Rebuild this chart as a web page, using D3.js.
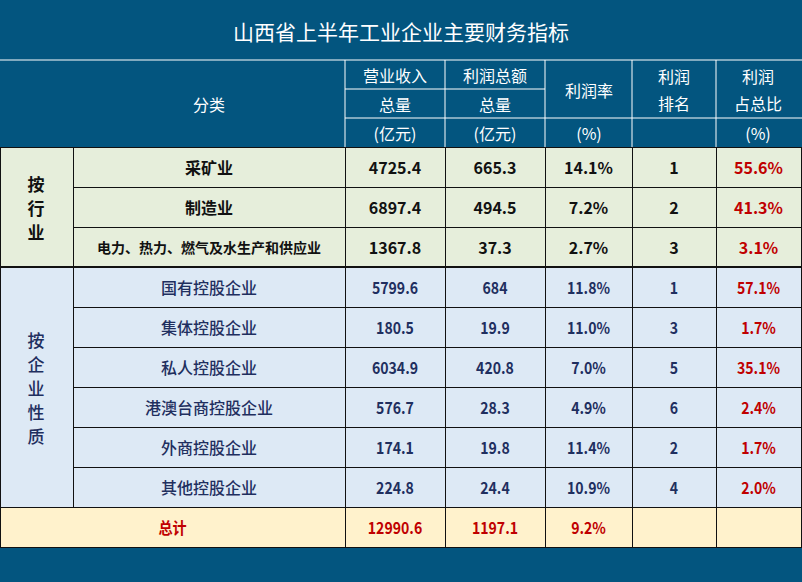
<!DOCTYPE html>
<html><head><meta charset="utf-8">
<script src="https://cdn.jsdelivr.net/npm/d3@7"></script>
<style>body{margin:0;background:#fff}svg{display:block}</style>
</head><body><svg width="802" height="582"></svg>
<script>
const title = "山西省上半年工业企业主要财务指标";
const groups = ["按\n行\n业", "按\n企\n业\n性\n质"];
const categories = ["采矿业","制造业","电力、热力、燃气及水生产和供应业","国有控股企业","集体控股企业","私人控股企业","港澳台商控股企业","外商控股企业","其他控股企业"];
const revenue = ["4725.4","6897.4","1367.8","5799.6","180.5","6034.9","576.7","174.1","224.8"];
const profit = ["665.3","494.5","37.3","684","19.9","420.8","28.3","19.8","24.4"];
const margin = ["14.1%","7.2%","2.7%","11.8%","11.0%","7.0%","4.9%","11.4%","10.9%"];
const rank = ["1","2","3","1","3","5","6","2","4"];
const share = ["55.6%","41.3%","3.1%","57.1%","1.7%","35.1%","2.4%","1.7%","2.0%"];
const total = ["总计","12990.6","1197.1","9.2%","",""];

const svg = d3.select("svg");
const W = 802, H = 582;
const navy = "#03557f";
// column edges
const colEdges = [0, 73, 345, 445, 545, 632, 716, 801];
const x = i => colEdges[i];
const rowY = d3.scaleBand().domain(d3.range(10)).range([147, 547]);
const rh = rowY.bandwidth();

svg.append("rect").attr("width", W).attr("height", H).attr("fill", navy);
svg.append("text").attr("x", W/2).attr("y", 31).attr("text-anchor","middle").attr("dominant-baseline","central")
  .attr("fill","#fff").style("font-family","Noto Sans CJK SC").style("font-size","21px").text(title);

// header
const hf = "Noto Sans CJK SC";
const hdr = svg.append("g").attr("fill","none").attr("stroke","#fff").attr("stroke-width",1);
hdr.append("line").attr("x1",0).attr("x2",W).attr("y1",60).attr("y2",60);
hdr.append("line").attr("x1",345).attr("x2",545).attr("y1",89).attr("y2",89);
hdr.append("line").attr("x1",345).attr("x2",W).attr("y1",118).attr("y2",118);
colEdges.slice(2,7).forEach(e => hdr.append("line").attr("x1",e).attr("x2",e).attr("y1",60).attr("y2",147));
const htext = [
  [209,104,"分类"],[395,75,"营业收入"],[495,75,"利润总额"],[395,104,"总量"],[495,104,"总量"],
  [395,133,"(亿元)"],[495,133,"(亿元)"],[589,90,"利润率"],[589,133,"(%)"],
  [674,76,"利润"],[674,103,"排名"],[758,76,"利润"],[758,103,"占总比"],[758,133,"(%)"]
];
svg.append("g").selectAll("text").data(htext).join("text")
  .attr("x", d => d[0]).attr("y", d => d[1]).attr("text-anchor","middle").attr("dominant-baseline","central")
  .attr("fill","#fff").style("font-family",hf).style("font-size","16px").text(d => d[2]);

// body rows
const rows = categories.map((c,i) => ({c, v:[revenue[i],profit[i],margin[i],rank[i],share[i]], g: i<3?0:1}));
const fills = ["#e6eedb","#dde9f5"];
const body = svg.append("g");
rows.forEach((r,i) => {
  const y = rowY(i);
  body.append("rect").attr("x",73).attr("y",y).attr("width",W-73).attr("height",rh).attr("fill",fills[r.g]);
  const cells = [r.c].concat(r.v);
  cells.forEach((t,j) => {
    const cx = (x(j+1)+x(j+2))/2;
    body.append("text").attr("x",cx).attr("y",y+rh/2).attr("text-anchor","middle").attr("dominant-baseline","central")
      .attr("fill", j===5 ? "#c00000" : (r.g ? "#1f2f5f" : "#111"))
      .style("font-family", r.g ? "Noto Sans CJK SC" : "Noto Sans CJK SC")
      .style("font-weight", j===0 && r.g ? "500" : "bold")
      .style("font-size", j===0 ? (i===2 ? "14px" : "16px") : "16px")
      .attr("transform", r.g && j>0 ? `translate(${cx},0) scale(0.88,1) translate(${-cx},0)` : null)
      .text(t);
  });
});
// group label cells
[[0,3],[3,9]].forEach(([a,b],g) => {
  const y0 = rowY(a), y1 = rowY(b-1)+rh;
  body.append("rect").attr("x",0).attr("y",y0).attr("width",73).attr("height",y1-y0).attr("fill",fills[g]);
  const chars = groups[g].split("\n");
  const cy = (y0+y1)/2;
  chars.forEach((ch,k) => body.append("text").attr("x",36).attr("y",cy+(k-(chars.length-1)/2)*24)
    .attr("text-anchor","middle").attr("dominant-baseline","central")
    .attr("fill", g ? "#1f2f5f" : "#111").style("font-family","Noto Sans CJK SC")
    .style("font-size","17px").style("font-weight", g ? "500" : "bold").text(ch));
});
// total row
const ty = rowY(9);
body.append("rect").attr("x",0).attr("y",ty).attr("width",W).attr("height",rh).attr("fill","#fff2cc");
total.forEach((t,j) => {
  const cx = j===0 ? (x(0)+x(2))/2 : (x(j+1)+x(j+2))/2;
  body.append("text").attr("x",cx).attr("y",ty+rh/2).attr("text-anchor","middle").attr("dominant-baseline","central")
    .attr("fill","#c00000").style("font-family","Noto Sans CJK SC").style("font-weight","bold").style("font-size","16px")
    .attr("transform", `translate(${cx},0) scale(0.88,1) translate(${-cx},0)`).text(t);
});
// grid lines
const grid = svg.append("g").attr("stroke","#111").attr("stroke-width",1).attr("shape-rendering","crispEdges");
d3.range(10).forEach(i => {
  const y = rowY(i);
  const x0 = (i===0||i===3||i===9) ? 0 : 73;
  grid.append("line").attr("x1",x0).attr("x2",W).attr("y1",y).attr("y2",y).attr("stroke-width", i===3 ? 2 : 1);
});
grid.append("line").attr("x1",0).attr("x2",W).attr("y1",547).attr("y2",547);
colEdges.forEach((e,k) => {
  if (k===1) grid.append("line").attr("x1",e).attr("x2",e).attr("y1",147).attr("y2",rowY(9));
  else if (k>1) grid.append("line").attr("x1",e).attr("x2",e).attr("y1",147).attr("y2",547);
  else grid.append("line").attr("x1",e+0.5).attr("x2",e+0.5).attr("y1",147).attr("y2",547);
});
</script></body></html>
